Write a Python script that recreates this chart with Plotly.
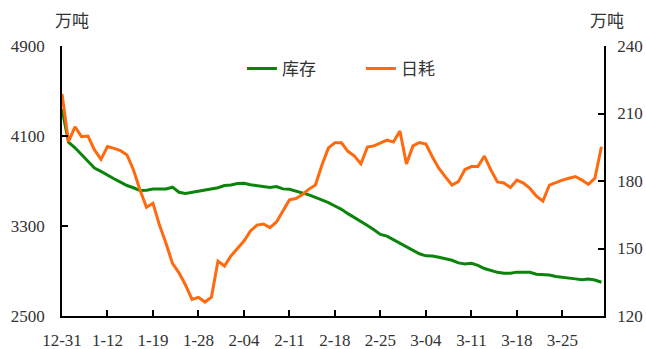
import plotly.graph_objects as go

# Trading-day labels (MM-DD)
dates = [
    "12-31", "1-04", "1-05", "1-06", "1-07", "1-08", "1-11",
    "1-12", "1-13", "1-14", "1-15", "1-16", "1-17", "1-18",
    "1-19", "1-20", "1-21", "1-22", "1-25", "1-26", "1-27",
    "1-28", "1-29", "1-30", "1-31", "2-01", "2-02", "2-03",
    "2-04", "2-05", "2-06", "2-07", "2-08", "2-09", "2-10",
    "2-11", "2-12", "2-13", "2-14", "2-15", "2-16", "2-17",
    "2-18", "2-19", "2-20", "2-21", "2-22", "2-23", "2-24",
    "2-25", "2-26", "2-27", "2-28", "3-01", "3-02", "3-03",
    "3-04", "3-05", "3-06", "3-07", "3-08", "3-09", "3-10",
    "3-11", "3-12", "3-13", "3-14", "3-15", "3-16", "3-17",
    "3-18", "3-19", "3-20", "3-21", "3-22", "3-23", "3-24",
    "3-25", "3-26", "3-27", "3-28", "3-29", "3-30", "3-31",
]
tick_dates = ["12-31", "1-12", "1-19", "1-28", "2-04", "2-11",
              "2-18", "2-25", "3-04", "3-11", "3-18", "3-25"]

# 库存 (万吨, left axis)
inventory = [
    4340, 4045, 3995, 3935, 3870, 3815, 3785, 3750, 3720, 3690,
    3660, 3640, 3615, 3618, 3628, 3630, 3630, 3645, 3600, 3590,
    3600, 3612, 3625, 3630, 3640, 3660, 3665, 3678, 3680, 3667,
    3658, 3650, 3642, 3650, 3630, 3627, 3612, 3598, 3577, 3555,
    3535, 3508, 3478, 3448, 3410, 3377, 3342, 3305, 3266, 3225,
    3210, 3178, 3142, 3116, 3080, 3053, 3035, 3033, 3022, 3010,
    2995, 2972, 2962, 2968, 2950, 2922, 2902, 2888, 2880, 2880,
    2890, 2891, 2889, 2872, 2867, 2865, 2851, 2842, 2836, 2830,
    2822, 2828, 2820, 2800,
]

# 日耗 (万吨, right axis)
daily_use = [
    218.7, 197.5, 204.1, 199.7, 200.0, 193.8, 189.6, 195.3, 194.5, 193.5,
    191.6, 184.9, 176.0, 168.3, 170.1, 160.4, 152.3, 143.4, 139.2, 133.8,
    127.4, 128.3, 126.2, 128.4, 144.4, 142.2, 146.7, 149.8, 153.3, 157.8,
    160.4, 160.9, 159.3, 161.8, 166.7, 171.6, 172.2, 174.0, 176.4, 178.2,
    187.1, 194.7, 197.0, 197.0, 193.2, 191.1, 187.6, 195.1, 195.6, 196.9,
    198.2, 197.3, 202.2, 187.6, 195.6, 197.1, 196.4, 190.7, 185.6, 181.8,
    178.2, 179.7, 185.1, 186.4, 186.4, 191.1, 184.9, 179.6, 179.1, 177.1,
    180.4, 179.1, 176.7, 173.3, 171.1, 178.2, 179.4, 180.4, 181.2, 182.0,
    180.4, 178.5, 181.2, 195.2,
]

tick_font = dict(family="Liberation Serif", size=17, color="#333333")
cjk_font = dict(family="Noto Sans CJK SC", size=17, color="#333333")

fig = go.Figure()
fig.add_trace(go.Scatter(
    x=dates, y=inventory, name="库存", mode="lines",
    line=dict(color="#0a840a", width=3), yaxis="y",
))
fig.add_trace(go.Scatter(
    x=dates, y=daily_use, name="日耗", mode="lines",
    line=dict(color="#ff6a0e", width=3), yaxis="y2",
))

axis_common = dict(
    showgrid=False, zeroline=False, showline=True, automargin=False,
    linecolor="#000000", linewidth=1.5,
    ticks="inside", ticklen=6, tickwidth=1.5, tickcolor="#000000",
    tickfont=tick_font,
)

fig.update_layout(
    width=646, height=349,
    margin=dict(l=62, r=42, t=46, b=33),
    paper_bgcolor="white", plot_bgcolor="white",
    showlegend=True,
    legend=dict(
        orientation="h", x=0.332, xanchor="left", y=0.915, yanchor="middle",
        font=cjk_font, bgcolor="rgba(0,0,0,0)", itemwidth=30,
        entrywidth=74, entrywidthmode="pixels",
    ),
    xaxis=dict(
        axis_common, type="category", range=[0, 83.4],
        tickmode="array", tickvals=tick_dates, ticktext=tick_dates,
        ticklabelstandoff=8,
    ),
    yaxis=dict(
        axis_common, range=[2500, 4900], tickmode="array",
        tickvals=[2500, 3300, 4100, 4900], ticklabelstandoff=12,
    ),
    yaxis2=dict(
        axis_common, range=[120, 240], tickmode="array",
        tickvals=[120, 150, 180, 210, 240], overlaying="y", side="right",
        ticklabelstandoff=8,
    ),
    annotations=[
        dict(text="万吨", xref="paper", yref="paper", x=-0.0166, y=1.0,
             yshift=27, xanchor="left", yanchor="middle",
             showarrow=False, font=cjk_font),
        dict(text="万吨", xref="paper", yref="paper", x=0.9705, y=1.0,
             yshift=27, xanchor="left", yanchor="middle",
             showarrow=False, font=cjk_font),
    ],
)

fig.write_html("out.html")
